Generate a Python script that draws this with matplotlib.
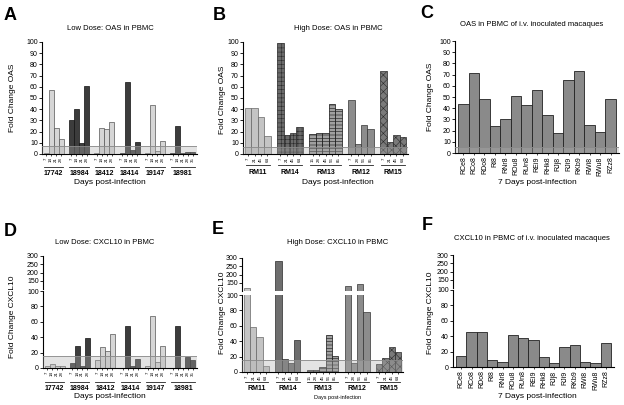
import matplotlib
matplotlib.use('Agg')
import matplotlib.pyplot as plt
from matplotlib.transforms import blended_transform_factory
import numpy as np

plt.rcParams['font.family'] = ['Liberation Sans', 'DejaVu Sans']
plt.rcParams['hatch.linewidth'] = 0.4

W, H = 624, 405

# ---- data ----
low_animals = ['17742', '18984', '18412', '18414', '19147', '18981']
low_days = [['7', '14', '21', '28'], ['7', '14', '21', '28'], ['7', '14', '21', '28'],
            ['7', '14', '21', '28'], ['7', '14', '21', '28'], ['7', '14', '21', '28', '35']]
oas_low = [[1, 57, 23, 13], [30, 40, 10, 61], [1, 23, 22, 29],
           [1, 64, 4, 11], [1, 44, 3, 12], [1, 25, 1, 2, 2]]
cxcl_low = [[2, 5, 3, 3], [6, 28, 3, 39], [10, 27, 22, 44],
            [0.5, 54, 3, 12], [3, 68, 8, 29], [0.5, 54, 0.5, 14, 10]]

high_animals = ['RM11', 'RM14', 'RM13', 'RM12', 'RM15']
high_days = [['7', '21', '45', '64'], ['7', '21', '45', '64'], ['15', '28', '45', '56', '85'],
             ['7', '28', '56', '85'], ['7', '21', '45', '64']]
oas_high = [[41, 41, 33, 16], [99, 17, 19, 24], [18, 19, 19, 45, 40],
            [48, 9, 26, 22], [74, 11, 17, 15]]
cxcl_high = [[120, 58, 45, 8], [280, 17, 12, 41], [2, 3, 6, 48, 21],
             [130, 12, 140, 78], [10, 18, 33, 26]]

iv_animals = ['RCe8', 'RCo8', 'RDo8', 'RI8', 'RNr8', 'ROu8', 'RUn8', 'REi9',
              'RHk8', 'RJj8', 'RJi9', 'RKb9', 'RWi8', 'RWu8', 'RZz8']
oas_iv = [44, 71, 48, 24, 30, 51, 43, 56, 34, 18, 65, 73, 25, 19, 48]
cxcl_iv = [14, 45, 45, 9, 6, 41, 38, 35, 13, 5, 26, 29, 6, 5, 31]

# styles per group
light = dict(facecolor='#d6d6d6', edgecolor='#555555')
dark = dict(facecolor='#3c3c3c', edgecolor='#111111')
low_styles = [light, dark, light, dark, light, dark]
high_styles_b = [dict(facecolor='#c4c4c4', edgecolor='#666666'),
                 dict(facecolor='#6a6a6a', edgecolor='#2a2a2a', hatch='++++'),
                 dict(facecolor='#a0a0a0', edgecolor='#111111', hatch='-----'),
                 dict(facecolor='#8c8c8c', edgecolor='#333333'),
                 dict(facecolor='#7a7a7a', edgecolor='#2a2a2a', hatch='xxxx')]
high_styles_e = [dict(facecolor='#c4c4c4', edgecolor='#666666'),
                 dict(facecolor='#6e6e6e', edgecolor='#2a2a2a'),
                 dict(facecolor='#a0a0a0', edgecolor='#111111', hatch='-----'),
                 dict(facecolor='#8c8c8c', edgecolor='#333333'),
                 dict(facecolor='#7a7a7a', edgecolor='#2a2a2a', hatch='xxxx')]
iv_style = dict(facecolor='#8a8a8a', edgecolor='#222222')

fig = plt.figure(figsize=(W / 100, H / 100), dpi=100)


def axpx(l, t, r, b):
    return fig.add_axes([l / W, 1 - b / H, (r - l) / W, (b - t) / H])


def fy(y):
    return 1 - y / H


def style(ax):
    for s in ['top', 'right']:
        ax.spines[s].set_visible(False)
    for s in ['left', 'bottom']:
        ax.spines[s].set_linewidth(0.8)
    ax.tick_params(axis='y', labelsize=5, length=2, width=0.6, pad=1)
    ax.tick_params(axis='x', length=1.5, width=0.5, pad=1)


def grouped(ax, values, days, names, styles, line_y, label_y):
    trans = blended_transform_factory(ax.transData, fig.transFigure)
    x = 0
    ticks, labels, groups = [], [], []
    for g, vals in enumerate(values):
        xs = np.arange(len(vals)) + x
        ax.bar(xs, vals, width=1, linewidth=0.5, **styles[g])
        groups.append((xs, vals, styles[g]))
        ticks.extend(xs)
        labels.extend(days[g])
        ax.plot([xs[0] - 0.4, xs[-1] + 0.4], [fy(line_y)] * 2, transform=trans,
                clip_on=False, color='#222222', lw=0.6)
        ax.text(xs.mean(), fy(label_y), names[g], transform=trans, ha='center',
                va='center', fontsize=5, fontweight='bold')
        x += len(vals) + 1
    ax.set_xticks(ticks, labels, rotation=90, fontsize=3.2)
    ax.set_xlim(-0.8, x - 1.2)
    return groups


def top_axis(ax, xlim, groups=None):
    if groups:
        for xs, vals, st in groups:
            ax.bar(xs, vals, width=1, linewidth=0.5, **st)
    ax.set_ylim(100, 300)
    ax.set_xlim(*xlim)
    ax.set_yticks([150, 200, 250, 300])
    for s in ['top', 'right', 'bottom']:
        ax.spines[s].set_visible(False)
    ax.spines['left'].set_linewidth(0.8)
    ax.tick_params(axis='y', labelsize=5, length=2, width=0.6, pad=1)
    ax.set_xticks([])


def band(ax, top):
    ax.axhspan(0, top, color='#b0b0b0', alpha=0.35, zorder=3, lw=0)
    ax.axhline(top, color='#888888', lw=0.6, zorder=3)


def txt(x, y, s, **kw):
    fig.text(x / W, fy(y), s, ha='center', va='center', **kw)


# ---- A ----
axA = axpx(42, 42, 197, 154)
style(axA)
grouped(axA, oas_low, low_days, low_animals, low_styles, 167, 174)
axA.set_ylim(0, 100)
axA.set_yticks(range(0, 101, 10))
band(axA, 7)

# ---- B ----
axB = axpx(243, 42, 408, 154)
style(axB)
grouped(axB, oas_high, high_days, high_animals, high_styles_b, 165, 173)
axB.set_ylim(0, 100)
axB.set_yticks(range(0, 101, 10))
band(axB, 6)

# ---- C ----
axC = axpx(455, 41, 619, 153)
style(axC)
xc = np.arange(len(oas_iv))
axC.bar(xc, oas_iv, width=1, linewidth=0.6, **iv_style)
axC.set_xticks(xc, iv_animals, rotation=90, fontsize=5)
axC.set_xlim(-0.8, len(oas_iv) - 0.2)
axC.set_ylim(0, 100)
axC.set_yticks(range(0, 101, 10))
band(axC, 5)

# ---- D ----
axD = axpx(43, 291, 197, 368)
style(axD)
grouped(axD, cxcl_low, low_days, low_animals, low_styles, 382, 388)
axD.set_ylim(0, 100)
axD.set_yticks(range(0, 101, 20))
band(axD, 15)
axD2 = axpx(43, 256, 197, 289)
top_axis(axD2, axD.get_xlim())

# ---- E ----
axE = axpx(242, 295, 403, 372)
style(axE)
gE = grouped(axE, cxcl_high, high_days, high_animals, high_styles_e, 382, 388)
axE.set_ylim(0, 100)
axE.set_yticks(range(0, 101, 20))
band(axE, 15)
axE2 = axpx(242, 258, 403, 291)
top_axis(axE2, axE.get_xlim(), gE)

# ---- F ----
axF = axpx(453, 290, 614, 367)
style(axF)
axF.bar(xc, cxcl_iv, width=1, linewidth=0.6, **iv_style)
axF.set_xticks(xc, iv_animals, rotation=90, fontsize=5)
axF.set_xlim(-0.8, len(cxcl_iv) - 0.2)
axF.set_ylim(0, 100)
axF.set_yticks(range(0, 101, 20))
axF2 = axpx(453, 255, 614, 288)
top_axis(axF2, axF.get_xlim())

# ---- titles, labels ----
txt(110, 28, 'Low Dose: OAS in PBMC', fontsize=5.5)
txt(338, 28, 'High Dose: OAS in PBMC', fontsize=5.5)
txt(532, 25, 'OAS in PBMC of i.v. inoculated macaques', fontsize=5.5)
txt(105, 242, 'Low Dose: CXCL10 in PBMC', fontsize=5.5)
txt(338, 243, 'High Dose: CXCL10 in PBMC', fontsize=5.5)
txt(532, 239, 'CXCL10 in PBMC of i.v. inoculated macaques', fontsize=5.5)

for x, y, s in [(10, 15, 'A'), (219, 15, 'B'), (427, 13, 'C'),
                (10, 231, 'D'), (218, 230, 'E'), (427, 226, 'F')]:
    txt(x, y, s, fontsize=13, fontweight='bold')

for x, y, s in [(13, 98, 'Fold Change OAS'), (222, 100, 'Fold Change OAS'),
                (431, 97, 'Fold Change OAS'), (13, 317, 'Fold Change CXCL10'),
                (222, 313, 'Fold Change CXCL10'), (430, 313, 'Fold Change CXCL10')]:
    txt(x, y, s, fontsize=6, rotation=90)

txt(110, 182, 'Days post-infection', fontsize=6)
txt(338, 183, 'Days post-infection', fontsize=6)
txt(537, 183, '7 Days post-infection', fontsize=6)
txt(110, 397, 'Days post-infection', fontsize=6)
txt(338, 397, 'Days post-infection', fontsize=4)
txt(537, 397, '7 Days post-infection', fontsize=6)

fig.savefig('out.png', dpi=100)
